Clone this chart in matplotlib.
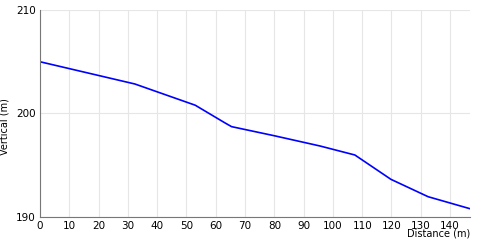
import matplotlib
matplotlib.use("Agg")
import matplotlib.pyplot as plt

# profile
distance = [0, 32.4, 53, 63.1, 65.4, 80, 95.6, 107.5, 119.8, 132.5, 146.8]
elevation = [205.0, 202.85, 200.8, 199.1, 198.73, 197.85, 196.86, 195.99, 193.64, 191.96, 190.8]
x_ticks = list(range(0, 150, 10))
y_ticks = [190, 200, 210]

fig = plt.figure(figsize=(4.8, 2.4), dpi=100)
ax = fig.add_axes([40 / 480, 23 / 240, 430 / 480, 207 / 240])

ax.plot(distance, elevation, color="#0000ff", lw=1.2)
ax.set_xlim(0, 146.8)
ax.set_ylim(190, 210)
ax.set_xticks(x_ticks)
ax.set_yticks(y_ticks)
ax.grid(True, color="#e6e6e6", lw=0.8)
ax.set_axisbelow(True)
for s in ["top", "right"]:
    ax.spines[s].set_visible(False)
for s in ["left", "bottom"]:
    ax.spines[s].set_color("#777777")
ax.tick_params(length=0, labelsize=7.5, pad=3)

fig.text(470 / 480, 2 / 240, "Distance (m)", ha="right", va="bottom", fontsize=7)
fig.text(5 / 480, 113 / 240, "Vertical (m)", rotation=90, ha="center", va="center", fontsize=7)

fig.savefig("out.png", dpi=100)
